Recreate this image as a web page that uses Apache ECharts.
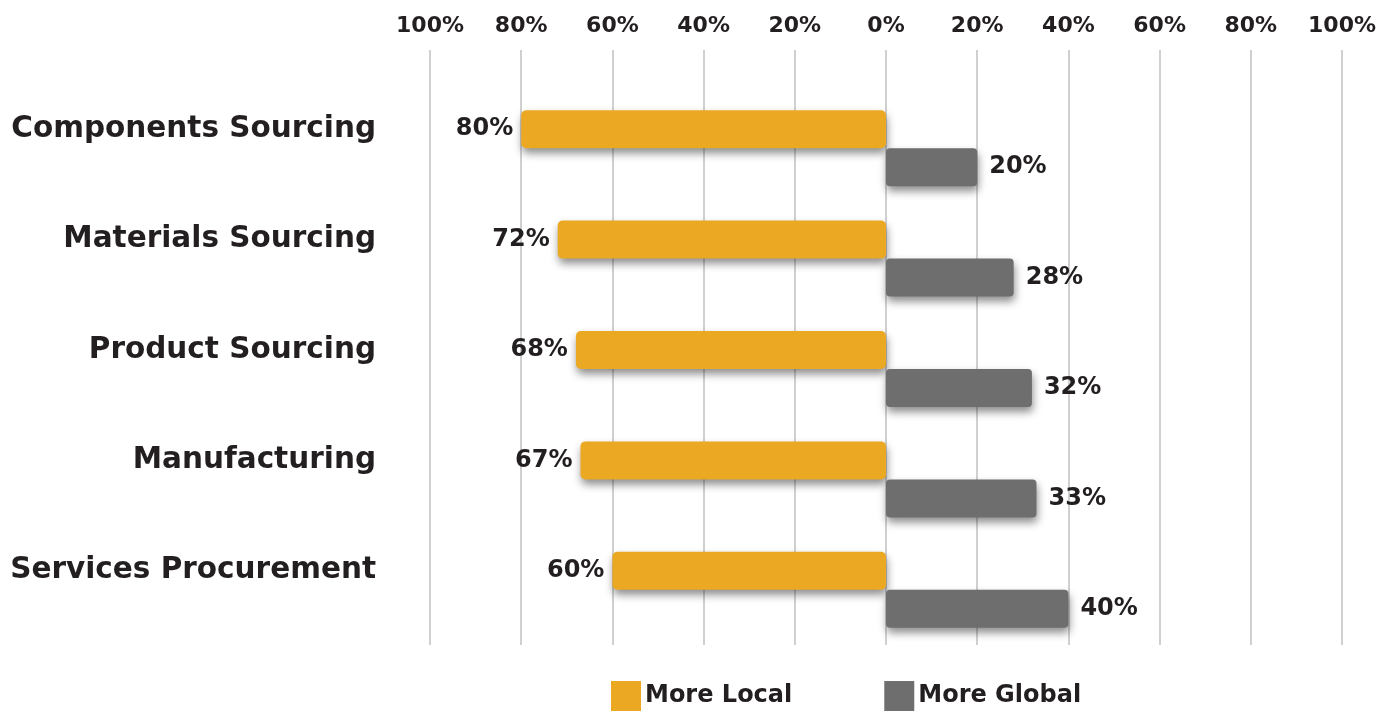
<!DOCTYPE html>
<html>
<head>
<meta charset="utf-8">
<script src="https://cdn.jsdelivr.net/npm/echarts@6/dist/echarts.min.js"></script>
<style>html,body{margin:0;padding:0;background:#fff}#c{width:1393px;height:711px}</style>
</head>
<body>
<div id="c"></div>
<script>
const categories = ['Components Sourcing','Materials Sourcing','Product Sourcing','Manufacturing','Services Procurement'];
const moreLocal = [80, 72, 68, 67, 60];
const moreGlobal = [20, 28, 32, 33, 40];
const FONT = '"DejaVu Sans", sans-serif';
const TXT = '#231f20';
const chart = echarts.init(document.getElementById('c'));
const shadow = {shadowBlur: 9, shadowOffsetY: 5, shadowOffsetX: 1, shadowColor: 'rgba(0,0,0,0.45)'};
chart.setOption({
  animation: false,
  grid: {left: 430, right: 51, top: 93, bottom: 66},
  xAxis: {
    type: 'value', position: 'top', min: -100, max: 100, interval: 20,
    axisLine: {show: false},
    axisTick: {show: true, inside: false, length: 43, lineStyle: {color: '#d0d0d0', width: 2}},
    splitLine: {lineStyle: {color: '#d0d0d0', width: 2}},
    axisLabel: {margin: 56, color: TXT, fontFamily: FONT, fontWeight: 'bold', fontSize: 22,
      formatter: v => Math.abs(v) + '%'}
  },
  yAxis: {
    type: 'category', inverse: true, data: categories,
    axisLine: {show: false}, axisTick: {show: false},
    axisLabel: {margin: 54, color: TXT, fontFamily: FONT, fontWeight: 'bold', fontSize: 29.5,
      verticalAlign: 'bottom', lineHeight: 38}
  },
  legend: {
    top: 676, left: 606, itemWidth: 30, itemHeight: 30, itemGap: 92, icon: 'rect',
    textStyle: {color: TXT, fontFamily: FONT, fontWeight: 'bold', fontSize: 24, padding: [0,0,0,-1]},
    data: ['More Local', 'More Global']
  },
  series: [
    {
      name: 'More Local', type: 'bar', barWidth: 38, barGap: '0%',
      data: moreLocal.map(v => -v),
      itemStyle: Object.assign({color: '#eba823', borderRadius: 5}, shadow),
      label: {show: true, position: 'left', distance: 8, color: TXT, fontFamily: FONT, fontWeight: 'bold', fontSize: 24,
        formatter: p => Math.abs(p.value) + '%'}
    },
    {
      name: 'More Global', type: 'bar', barWidth: 38, barGap: '0%',
      data: moreGlobal,
      itemStyle: Object.assign({color: '#6e6e6e', borderRadius: 4}, shadow),
      label: {show: true, position: 'right', distance: 12, color: TXT, fontFamily: FONT, fontWeight: 'bold', fontSize: 24,
        formatter: p => p.value + '%'}
    }
  ]
});
</script>
</body>
</html>
